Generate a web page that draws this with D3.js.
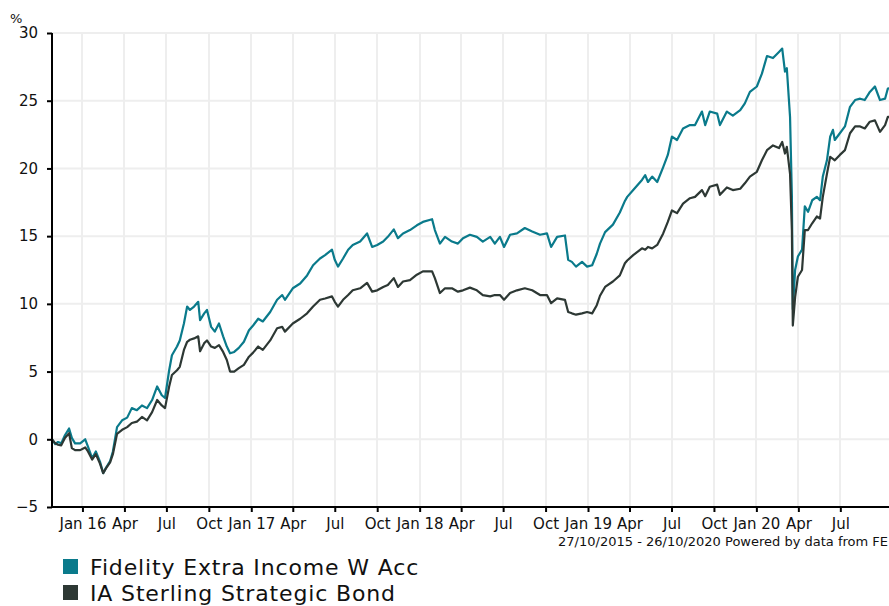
<!DOCTYPE html>
<html>
<head>
<meta charset="utf-8">
<script src="https://cdn.jsdelivr.net/npm/d3@7"></script>
<style>
  html, body { margin: 0; padding: 0; background: #fff; overflow: hidden; }
  svg { display: block; font-family: "DejaVu Sans", Verdana, sans-serif; }
</style>
</head>
<body>
<svg id="chart" width="889" height="606"></svg>
<script>
// ---- data ----
const startDate = "2015-10-27";
const endDate = "2020-10-26";
// observation day offsets from start date
const dayOffsets = [0,7,13,20,28,37,43,50,61,72,78,87,95,104,111,117,126,132,141,152,163,173,184,195,206,217,228,238,245,254,260,271,277,286,293,299,308,317,321,330,336,345,353,362,371,379,386,395,405,416,427,436,447,457,473,488,499,505,522,538,553,566,581,592,607,613,620,631,642,652,668,683,694,705,718,728,741,750,761,776,791,804,824,830,841,852,867,880,891,906,921,934,950,960,971,980,993,1008,1025,1041,1058,1073,1082,1095,1112,1119,1127,1136,1149,1160,1171,1181,1188,1199,1216,1231,1242,1247,1260,1279,1286,1292,1301,1312,1325,1335,1344,1355,1368,1383,1394,1409,1416,1426,1442,1448,1463,1476,1492,1502,1513,1528,1539,1550,1563,1576,1583,1589,1593,1600,1604,1606,1611,1617,1626,1632,1639,1648,1658,1665,1671,1680,1687,1693,1697,1708,1719,1730,1741,1752,1762,1773,1784,1795,1806,1812,1826];
const fundValues = [0,-0.35,-0.2,-0.3,0.3,0.8,0.1,-0.3,-0.3,0.0,-0.55,-1.4,-0.9,-1.65,-2.5,-2.1,-1.6,-0.9,0.9,1.4,1.6,2.3,2.15,2.5,2.3,2.9,3.9,3.25,3.05,5.1,6.2,6.85,7.3,8.55,9.8,9.55,9.8,10.15,8.8,9.3,9.55,8.3,7.95,8.55,7.6,6.85,6.35,6.45,6.75,7.2,8.05,8.4,8.9,8.7,9.4,10.3,10.65,10.3,11.15,11.5,12.1,12.85,13.35,13.6,14.0,13.25,12.75,13.35,14.0,14.35,14.6,15.2,14.2,14.35,14.6,14.95,15.5,14.85,15.2,15.45,15.8,16.05,16.25,15.45,14.45,14.95,14.6,14.45,14.85,15.1,14.95,14.6,14.95,14.45,14.95,14.2,15.1,15.2,15.6,15.35,15.1,15.2,14.2,14.95,15.05,13.25,13.1,12.75,13.1,12.75,12.85,13.7,14.45,15.3,15.85,16.75,17.6,17.9,18.4,19.15,19.5,19.0,19.4,19.0,20.1,21.0,22.35,22.1,22.95,23.2,23.2,24.2,23.2,24.2,24.05,23.2,24.2,23.9,24.3,24.8,25.65,26.05,27.0,28.3,28.15,28.6,28.85,27.15,27.4,23.8,17.9,9.6,12.5,13.5,14.0,17.2,16.8,17.65,17.9,17.65,19.4,20.6,22.35,22.85,22.1,22.6,23.1,24.55,25.05,25.15,25.05,25.65,26.05,25.05,25.15,25.9,26.0];
const sectorValues = [0,-0.3,-0.4,-0.45,0.1,0.45,-0.65,-0.8,-0.8,-0.6,-0.9,-1.5,-1.1,-1.8,-2.5,-2.15,-1.7,-1.1,0.4,0.7,0.9,1.2,1.3,1.65,1.4,2.0,2.9,2.5,2.3,3.9,4.75,5.1,5.35,6.6,7.2,7.35,7.45,7.6,6.5,7.1,7.3,6.85,6.75,6.95,6.45,5.85,5.0,5.0,5.25,5.5,6.1,6.4,6.85,6.6,7.3,8.2,8.3,7.95,8.55,8.9,9.3,9.8,10.3,10.4,10.55,10.15,9.8,10.3,10.65,11.0,11.15,11.55,10.9,11.0,11.25,11.4,11.9,11.25,11.65,11.75,12.15,12.4,12.4,11.9,10.8,11.15,11.15,10.9,11.0,11.2,11.0,10.65,10.55,10.65,10.65,10.3,10.8,11.0,11.15,11.0,10.65,10.65,10.05,10.4,10.3,9.4,9.3,9.2,9.3,9.4,9.3,9.9,10.6,11.25,11.65,12.1,13.0,13.2,13.6,14.1,14.0,14.2,14.1,14.35,15.2,16.05,16.9,16.7,17.4,17.8,17.9,18.4,17.95,18.65,18.8,18.05,18.6,18.4,18.5,18.9,19.4,19.75,20.6,21.35,21.7,21.5,21.95,21.1,21.6,19.6,15.4,8.4,10.5,12.0,12.5,15.45,15.45,15.95,16.45,16.3,17.9,19.6,20.85,20.7,20.6,21.0,21.35,22.6,23.1,23.1,22.95,23.45,23.55,22.7,23.2,23.8,23.8];
const seriesNames = ["Fidelity Extra Income W Acc", "IA Sterling Strategic Bond"];
const seriesColors = ["#0a7a8b", "#2d3834"];
const yTicks = [-5, 0, 5, 10, 15, 20, 25, 30];
const xTickDates = ["2016-01-01","2016-04-01","2016-07-01","2016-10-01","2017-01-01","2017-04-01","2017-07-01","2017-10-01","2018-01-01","2018-04-01","2018-07-01","2018-10-01","2019-01-01","2019-04-01","2019-07-01","2019-10-01","2020-01-01","2020-04-01","2020-07-01"];
const xTickLabels = ["Jan 16","Apr","Jul","Oct","Jan 17","Apr","Jul","Oct","Jan 18","Apr","Jul","Oct","Jan 19","Apr","Jul","Oct","Jan 20","Apr","Jul"];
const footnote = "27/10/2015 - 26/10/2020 Powered by data from FE";

// ---- build ----
const parse = d3.timeParse("%Y-%m-%d");
const t0 = parse(startDate), t1 = parse(endDate);
const dates = dayOffsets.map(d => d3.timeDay.offset(t0, d));

const svg = d3.select("#chart");
const pLeft = 52, pTop = 33, pBottom = 507, pRight = 894.3;

const x = d3.scaleTime().domain([t0, t1]).range([pLeft, pRight]);
const y = d3.scaleLinear().domain([-5, 30]).range([pBottom, pTop]);

// grid
const grid = svg.append("g");
grid.selectAll("line.h").data(yTicks.filter(v => v > -5)).join("line")
  .attr("x1", pLeft).attr("x2", 889)
  .attr("y1", d => y(d)).attr("y2", d => y(d))
  .attr("stroke", "#eeeeee").attr("stroke-width", 2);
grid.selectAll("line.v").data(xTickDates).join("line")
  .attr("x1", d => Math.round(x(parse(d)))).attr("x2", d => Math.round(x(parse(d))))
  .attr("y1", pTop).attr("y2", pBottom)
  .attr("stroke", "#eeeeee").attr("stroke-width", 2);

// lines
const series = [fundValues, sectorValues];
const line = d3.line().x((d, i) => x(dates[i])).y(d => y(d)).curve(d3.curveLinear);
series.forEach((vals, k) => {
  svg.append("path").datum(vals)
    .attr("d", line)
    .attr("fill", "none")
    .attr("stroke", seriesColors[k])
    .attr("stroke-width", 2.2)
    .attr("stroke-linejoin", "round");
});

// y axis
const yAxis = d3.axisLeft(y).tickValues(yTicks).tickSize(5).tickPadding(9).tickFormat(d3.format("d"));
const gy = svg.append("g").attr("transform", `translate(${pLeft},0)`).call(yAxis);
gy.select(".domain").attr("stroke", "#000").attr("stroke-width", 2).attr("d", `M0,${pTop}V${pBottom + 1}`);
gy.selectAll(".tick line").attr("stroke", "#000").attr("stroke-width", 2);
gy.selectAll(".tick text").attr("font-size", 15).attr("fill", "#111").attr("font-family", "DejaVu Sans");

// x axis
const xAxis = d3.axisBottom(x).tickValues(xTickDates.map(parse)).tickSize(5).tickPadding(6)
  .tickFormat((d, i) => xTickLabels[i]);
const gx = svg.append("g").attr("transform", `translate(0,${pBottom})`).call(xAxis);
gx.select(".domain").attr("stroke", "#000").attr("stroke-width", 2).attr("d", `M${pLeft - 1},0H889`);
gx.selectAll(".tick line").attr("stroke", "#000").attr("stroke-width", 2);
gx.selectAll(".tick text").attr("font-size", 15).attr("fill", "#111").attr("font-family", "DejaVu Sans");

// unit label
svg.append("text").attr("x", 10).attr("y", 23).attr("font-size", 13).attr("fill", "#111").text("%");

// footnote
svg.append("text").attr("x", 888).attr("y", 546).attr("text-anchor", "end")
  .attr("font-size", 13).attr("fill", "#111").text(footnote);

// legend
const lg = svg.append("g");
seriesNames.forEach((name, k) => {
  const yy = 559 + k * 26;
  lg.append("rect").attr("x", 63).attr("y", yy).attr("width", 15).attr("height", 15).attr("fill", seriesColors[k]);
  lg.append("text").attr("x", 90).attr("y", yy + 15.5).attr("font-size", 22)
    .attr("letter-spacing", 0.85).attr("fill", "#111").text(name);
});
</script>
</body>
</html>
